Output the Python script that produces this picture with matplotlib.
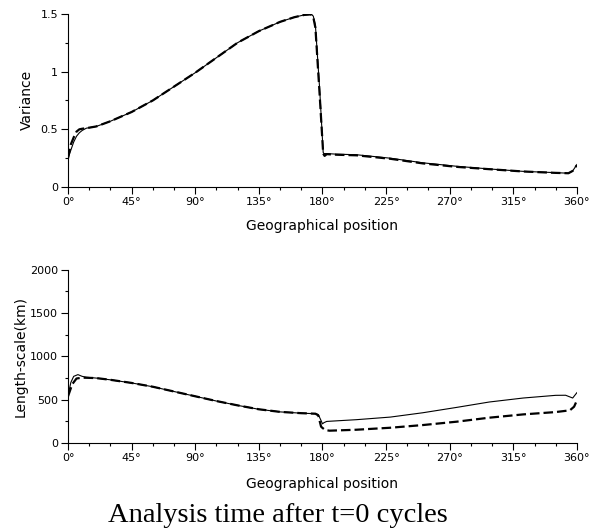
import matplotlib
matplotlib.use("Agg")
import matplotlib.pyplot as plt
from matplotlib.ticker import MultipleLocator

# ---- data ----
var_solid_x = [0, 2, 4, 6, 8, 10, 13, 20, 30, 45, 60, 75, 90, 105, 120, 135, 150, 160, 167,
               172, 173.5, 175, 178, 180.5, 181, 183, 190, 204, 228, 251, 275, 298, 322, 345, 354, 357, 360]
var_solid_y = [0.25, 0.32, 0.39, 0.44, 0.47, 0.49, 0.51, 0.525, 0.57, 0.65, 0.75, 0.87, 0.99, 1.12, 1.25,
               1.35, 1.43, 1.47, 1.49, 1.495, 1.48, 1.40, 0.85, 0.30, 0.29, 0.29, 0.285, 0.28, 0.25, 0.21,
               0.18, 0.157, 0.136, 0.125, 0.12, 0.14, 0.195]
var_dash_x = [0, 2, 4, 6, 8, 10, 13, 20, 30, 45, 60, 75, 90, 105, 120, 135, 150, 160, 167,
              172, 173.5, 175, 178, 180.5, 181.5, 183, 190, 204, 228, 251, 275, 298, 322, 345, 354, 357, 360]
var_dash_y = [0.25, 0.37, 0.43, 0.48, 0.50, 0.505, 0.51, 0.525, 0.57, 0.65, 0.75, 0.87, 0.99, 1.12, 1.25,
              1.35, 1.43, 1.47, 1.49, 1.495, 1.47, 1.38, 0.80, 0.29, 0.27, 0.285, 0.28, 0.275, 0.245, 0.205,
              0.175, 0.155, 0.135, 0.123, 0.12, 0.14, 0.19]

len_solid_x = [0, 2, 4, 7, 10, 13, 20, 30, 45, 60, 75, 90, 105, 120, 135, 150, 165, 175, 177,
               179, 180, 181, 183, 204, 228, 251, 275, 298, 322, 345, 352, 357, 360]
len_solid_y = [550, 700, 770, 790, 770, 760, 750, 730, 694, 650, 595, 540, 485, 435, 390, 360, 345,
               339, 330, 260, 222, 235, 250, 270, 300, 350, 412, 474, 520, 551, 552, 520, 582]
len_dash_x = [0, 3, 6, 10, 20, 30, 45, 60, 75, 90, 105, 120, 135, 150, 165, 175, 177,
              179, 180, 182, 185, 204, 228, 251, 275, 298, 322, 345, 355, 358, 360]
len_dash_y = [540, 680, 745, 755, 750, 730, 694, 650, 595, 540, 485, 435, 390, 360, 345, 339, 320,
              190, 175, 150, 143, 154, 177, 208, 247, 293, 331, 358, 378, 420, 493]

x_ticks = [0, 45, 90, 135, 180, 225, 270, 315, 360]
x_ticklabels = ["0°", "45°", "90°", "135°", "180°", "225°", "270°", "315°", "360°"]
var_ticks = [0, 0.5, 1, 1.5]
var_ticklabels = ["0", "0.5", "1", "1.5"]
len_ticks = [0, 500, 1000, 1500, 2000]

fig = plt.figure(figsize=(5.89, 5.30), dpi=100)
ax1 = fig.add_axes([0.1155, 0.647, 0.864, 0.327])
ax2 = fig.add_axes([0.1155, 0.164, 0.864, 0.327])

lw_s = 0.8
lw_d = 1.6
dash = (4.3, 1.8)

ax1.plot(var_solid_x, var_solid_y, color="black", lw=lw_s)
ax1.plot(var_dash_x, var_dash_y, color="black", lw=lw_d, dashes=dash)
ax2.plot(len_solid_x, len_solid_y, color="black", lw=lw_s)
ax2.plot(len_dash_x, len_dash_y, color="black", lw=lw_d, dashes=dash)

for ax in (ax1, ax2):
    ax.set_xlim(0, 360)
    ax.spines["top"].set_visible(False)
    ax.spines["right"].set_visible(False)
    ax.spines["left"].set_linewidth(0.8)
    ax.spines["bottom"].set_linewidth(0.8)
    ax.set_xticks(x_ticks)
    ax.set_xticklabels(x_ticklabels)
    ax.xaxis.set_minor_locator(MultipleLocator(15))
    ax.tick_params(which="major", direction="out", length=5, width=0.8, labelsize=8, pad=2)
    ax.tick_params(which="minor", direction="out", length=2.5, width=0.8)

ax1.set_xlabel("Geographical position", fontsize=10, labelpad=9)
ax2.set_xlabel("Geographical position", fontsize=10, labelpad=10)

ax1.set_ylim(0, 1.5)
ax1.set_yticks(var_ticks)
ax1.set_yticklabels(var_ticklabels)
ax1.yaxis.set_minor_locator(MultipleLocator(0.25))
ax1.set_ylabel("Variance", fontsize=10, labelpad=5)

ax2.set_ylim(0, 2000)
ax2.set_yticks(len_ticks)
ax2.yaxis.set_minor_locator(MultipleLocator(250))
ax2.set_ylabel("Length-scale(km)", fontsize=10, labelpad=1.5)

fig.text(0.472, 0.027, "Analysis time after t=0 cycles", family="Liberation Serif",
         fontsize=20.5, ha="center", va="center")

fig.savefig("out.png", dpi=100)
